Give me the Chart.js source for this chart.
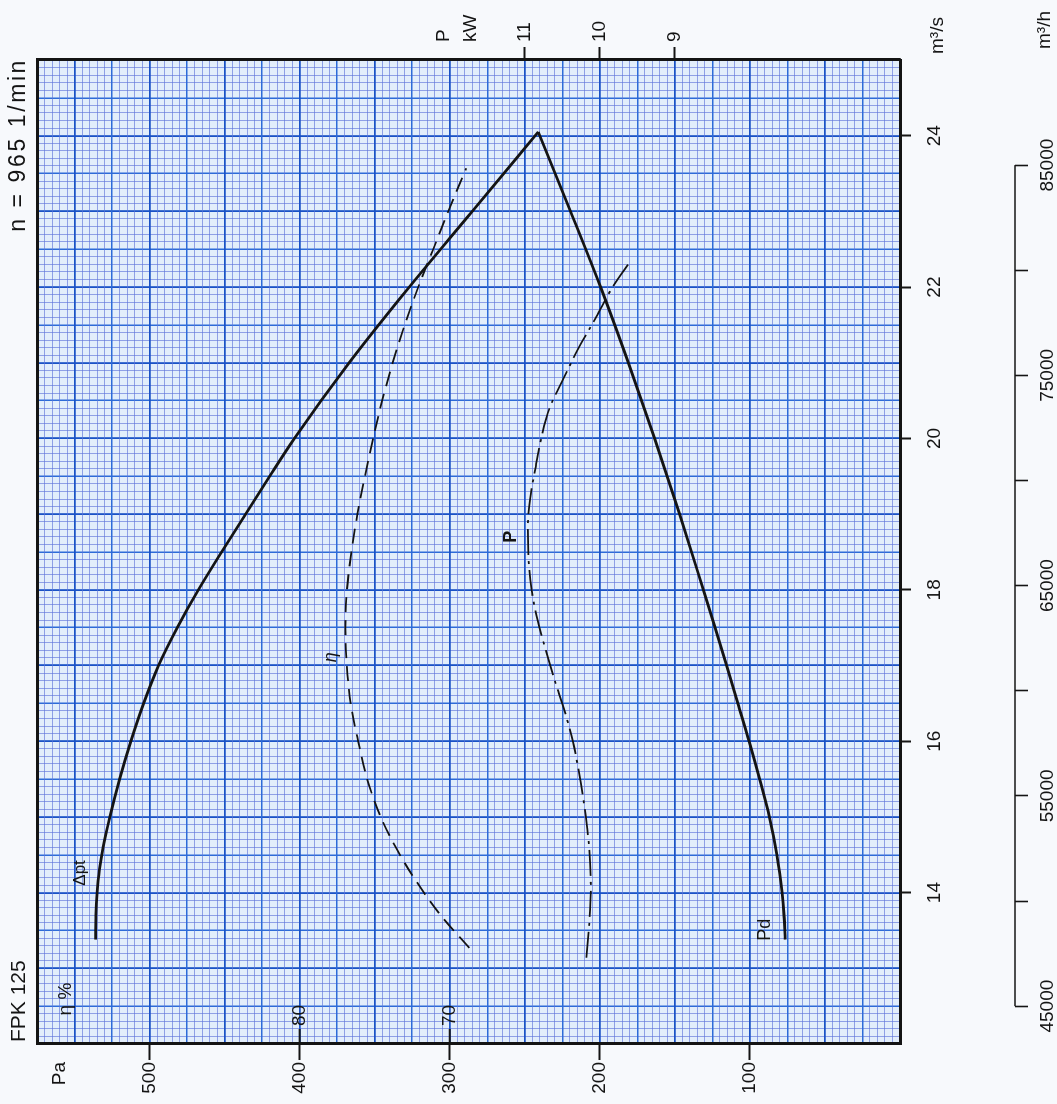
<!DOCTYPE html>
<html>
<head>
<meta charset="utf-8">
<title>FPK 125</title>
<script src="https://cdn.jsdelivr.net/npm/chart.js@4.4.0/dist/chart.umd.min.js"></script>
<style>
  html, body { margin: 0; padding: 0; background: #f7f9fc; overflow: hidden; }
  /* the sheet is drawn upright and then turned a quarter to the left */
  #wrap {
    position: absolute; left: 0; top: 0;
    width: 1104px; height: 1057px;
    transform-origin: 0 0;
    transform: translateY(1104px) rotate(-90deg);
  }
  canvas { display: block; }
</style>
</head>
<body>
<div id="wrap"><canvas id="chart" width="1104" height="1057"></canvas></div>
<script>
// curves: flow in m3/s
const dptFlow = [13.38, 13.7, 14.0, 14.3, 14.6, 15.0, 15.5, 16.0, 16.5, 17.0, 17.5, 18.0, 18.5, 19.0, 19.5, 20.0, 21.0, 22.0, 23.0, 24.05];
const dptPa = [536, 535.8, 535, 533.5, 531, 526.5, 520, 512.5, 504, 494, 481.5, 467.5, 452, 436, 420, 403.5, 367, 327, 285, 241];

const pdFlow = [13.38, 13.7, 14.0, 14.5, 15.0, 15.5, 16.0, 16.5, 17.0, 17.5, 18.0, 19.0, 20.0, 21.0, 22.0, 23.0, 24.05];
const pdPa = [76.5, 77.3, 78.6, 82, 87, 93.5, 100.5, 108, 115.5, 123.2, 131, 146.8, 163.5, 181, 199.5, 219.5, 241];

const etaFlow = [13.27, 13.7, 14.2, 14.6, 15.0, 15.5, 16.0, 16.5, 17.0, 17.5, 18.0, 18.5, 19.0, 19.5, 20.0, 20.5, 21.0, 21.5, 22.0, 22.5, 23.0, 23.57];
const etaPct = [68.7, 70.6, 72.4, 73.6, 74.6, 75.5, 76.1, 76.6, 76.85, 76.95, 76.85, 76.55, 76.15, 75.65, 75.1, 74.5, 73.8, 73.0, 72.1, 71.1, 70.1, 68.9];

const powFlow = [13.14, 13.6, 14.04, 14.56, 15.1, 15.6, 16.0, 16.4, 16.8, 17.2, 17.6, 18.0, 18.4, 18.8, 19.2, 19.6, 20.0, 20.4, 20.8, 21.2, 21.6, 22.0, 22.36];
const powKw = [10.18, 10.14, 10.12, 10.14, 10.2, 10.28, 10.36, 10.47, 10.6, 10.72, 10.83, 10.91, 10.95, 10.96, 10.93, 10.86, 10.78, 10.67, 10.48, 10.28, 10.05, 9.83, 9.58];

// axis ticks
const flowTicks = [14, 16, 18, 20, 22, 24];
const hourTicks = [45000, 50000, 55000, 60000, 65000, 70000, 75000, 80000, 85000];
const hourLabels = [45000, 55000, 65000, 75000, 85000];
const paTicks = [100, 200, 300, 400, 500];
const etaTicks = [70, 80];
const kwTicks = [9, 10, 11];

// where the unit names sit along their axes
const PA_UNIT_AT = 560;
const ETA_UNIT_AT = 95.6;
const KW_UNIT_AT = 11.9;

const FONT = '"Liberation Sans", Arial, Helvetica, sans-serif';
const INK = '#141414';
Chart.defaults.font.family = FONT;
Chart.defaults.font.size = 19;
Chart.defaults.color = INK;

function toPoints(xs, ys) {
  return xs.map((x, i) => ({ x: x, y: ys[i] }));
}

// graph paper: every step, with half and full centimetre lines heavier
function paperTicks(from, to, step) {
  const out = [];
  const n = Math.round((to - from) / step);
  for (let i = 0; i <= n; i++) {
    out.push({ value: +(from + i * step).toFixed(4) });
  }
  return out;
}
function paperColor(k) {
  if (k % 10 === 0) return '#1a52c6';
  if (k % 5 === 0) return '#2d6bd8';
  return 'rgba(96, 118, 218, 0.72)';
}
function paperWidth(k) {
  if (k % 10 === 0) return 1.8;
  if (k % 5 === 0) return 1.5;
  return 0.9;
}

const paperPlugin = {
  id: 'paper',
  beforeDraw(chart) {
    const { ctx, chartArea: a } = chart;
    ctx.save();
    ctx.fillStyle = '#f7f9fc';
    ctx.fillRect(0, 0, chart.width, chart.height);
    ctx.fillStyle = '#e2eefb';
    ctx.fillRect(a.left, a.top, a.right - a.left, a.bottom - a.top);
    ctx.restore();
  }
};

const notesPlugin = {
  id: 'notes',
  afterDraw(chart) {
    const { ctx, chartArea: a, scales } = chart;
    const x = scales.x, x2 = scales.x2, y = scales.y, yEta = scales.yEta;
    ctx.save();
    ctx.fillStyle = INK;
    ctx.strokeStyle = INK;

    // efficiency ticks point into the sheet
    ctx.lineWidth = 2;
    etaTicks.forEach((v) => {
      const py = yEta.getPixelForValue(v);
      ctx.beginPath();
      ctx.moveTo(a.left, py);
      ctx.lineTo(a.left + 15, py);
      ctx.stroke();
    });

    // m3/h scale only runs between its first and last label
    ctx.lineWidth = 1.6;
    ctx.beginPath();
    ctx.moveTo(x2.getPixelForValue(hourLabels[0]), x2.top);
    ctx.lineTo(x2.getPixelForValue(hourLabels[hourLabels.length - 1]), x2.top);
    ctx.stroke();

    // curve names
    const names = [
      { t: '\u0394pt', q: 14.26, p: 546, f: '17px ' + FONT },
      { t: '\u03b7', q: 17.11, p: 379, f: 'italic 18px ' + FONT },
      { t: 'P', q: 18.7, p: 259, f: 'bold 18px ' + FONT },
      { t: 'Pd', q: 13.51, p: 90, f: '18px ' + FONT }
    ];
    ctx.textAlign = 'center';
    ctx.textBaseline = 'middle';
    names.forEach((n) => {
      ctx.font = n.f;
      ctx.fillText(n.t, x.getPixelForValue(n.q), y.getPixelForValue(n.p));
    });

    // unit names at the ends of the flow scales
    ctx.font = '19px ' + FONT;
    ctx.textAlign = 'left';
    ctx.fillText('m\u00b3/s', a.right + 6, x.top + 38);
    ctx.fillText('m\u00b3/h', a.right + 11, x2.top + 30);

    // sheet headings
    ctx.textBaseline = 'middle';
    ctx.font = '21px ' + FONT;
    ctx.textAlign = 'left';
    ctx.fillText('FPK 125', a.left + 2, a.top - 18);
    ctx.font = '23px ' + FONT;
    ctx.letterSpacing = '2.6px';
    ctx.textAlign = 'right';
    ctx.fillText('n = 965 1/min', a.right + 2, a.top - 18);
    ctx.restore();
  }
};

const lineBase = {
  pointRadius: 0,
  fill: false,
  cubicInterpolationMode: 'monotone',
  borderColor: INK
};

new Chart(document.getElementById('chart'), {
  type: 'line',
  data: {
    datasets: [
      Object.assign({ label: '\u0394pt', data: toPoints(dptFlow, dptPa), yAxisID: 'y', borderWidth: 2.8 }, lineBase),
      Object.assign({ label: 'Pd', data: toPoints(pdFlow, pdPa), yAxisID: 'y', borderWidth: 2.8 }, lineBase),
      Object.assign({ label: '\u03b7', data: toPoints(etaFlow, etaPct), yAxisID: 'yEta', borderWidth: 1.8, borderDash: [15, 8] }, lineBase),
      Object.assign({ label: 'P', data: toPoints(powFlow, powKw), yAxisID: 'yP', borderWidth: 1.8, borderDash: [26, 6, 3, 6] }, lineBase)
    ]
  },
  options: {
    responsive: false,
    animation: false,
    layout: { padding: { top: 37, left: 0, right: 0, bottom: 0 } },
    plugins: { legend: { display: false }, tooltip: { enabled: false } },
    scales: {
      x: {
        type: 'linear', position: 'bottom', min: 12, max: 25, weight: 0,
        afterBuildTicks: (s) => { s.ticks = flowTicks.map((v) => ({ value: v })); },
        ticks: { autoSkip: false, maxRotation: 0, padding: 12 },
        grid: { drawOnChartArea: false, tickLength: 11, tickWidth: 2, tickColor: INK },
        border: { color: INK, width: 3 },
        afterFit: (s) => { s.height = 115; }
      },
      x2: {
        type: 'linear', position: 'bottom', min: 12 * 3600, max: 25 * 3600, weight: 1,
        afterBuildTicks: (s) => { s.ticks = hourTicks.map((v) => ({ value: v })); },
        ticks: {
          autoSkip: false, maxRotation: 0, padding: 8,
          callback: (v) => (hourLabels.includes(v) ? String(v) : '')
        },
        grid: { drawOnChartArea: false, tickLength: 13, tickWidth: 1.6, tickColor: INK },
        border: { display: false },
        afterFit: (s) => { s.height = 42; }
      },
      xg: {
        type: 'linear', position: 'top', min: 12, max: 25,
        afterBuildTicks: (s) => { s.ticks = paperTicks(12, 25, 0.1); },
        ticks: { display: false, autoSkip: false },
        grid: {
          drawTicks: false,
          color: (c) => (c.tick ? paperColor(Math.round(c.tick.value * 10)) : 'transparent'),
          lineWidth: (c) => (c.tick ? paperWidth(Math.round(c.tick.value * 10)) : 0)
        },
        border: { color: INK, width: 3 },
        afterFit: (s) => { s.height = 0; }
      },
      y: {
        type: 'linear', position: 'left', min: 0, max: 575, weight: 2,
        afterBuildTicks: (s) => { s.ticks = paTicks.concat([PA_UNIT_AT]).map((v) => ({ value: v })); },
        ticks: { autoSkip: false, padding: 2, callback: (v) => (v === PA_UNIT_AT ? 'Pa' : String(v)) },
        grid: {
          drawOnChartArea: false, tickLength: 16, tickWidth: 2,
          tickColor: (c) => (c.tick && c.tick.value === PA_UNIT_AT ? 'transparent' : INK)
        },
        border: { display: false },
        afterFit: (s) => { s.width = 60; }
      },
      yEta: {
        type: 'linear', position: 'left', min: 40, max: 97.5, weight: 1,
        afterBuildTicks: (s) => { s.ticks = etaTicks.concat([ETA_UNIT_AT]).map((v) => ({ value: v })); },
        ticks: { autoSkip: false, mirror: true, padding: 18, callback: (v) => (v === ETA_UNIT_AT ? '  \u03b7 %' : String(v)) },
        grid: { drawOnChartArea: false, drawTicks: false },
        border: { color: INK, width: 3 },
        afterFit: (s) => { s.width = 0; }
      },
      yg: {
        type: 'linear', position: 'right', min: 0, max: 575, weight: 0,
        afterBuildTicks: (s) => { s.ticks = paperTicks(0, 575, 5); },
        ticks: { display: false, autoSkip: false },
        grid: {
          drawTicks: false,
          color: (c) => (c.tick ? paperColor(Math.round(c.tick.value / 5)) : 'transparent'),
          lineWidth: (c) => (c.tick ? paperWidth(Math.round(c.tick.value / 5)) : 0)
        },
        border: { color: INK, width: 3 },
        afterFit: (s) => { s.width = 0; }
      },
      yP: {
        type: 'linear', position: 'right', min: 6, max: 17.5, weight: 1,
        afterBuildTicks: (s) => { s.ticks = kwTicks.concat([KW_UNIT_AT]).map((v) => ({ value: v })); },
        ticks: {
          autoSkip: false, padding: 5, font: { size: 19, lineHeight: 1.4 },
          callback: (v) => (v === KW_UNIT_AT ? ['P', 'kW'] : String(v))
        },
        grid: {
          drawOnChartArea: false, tickLength: 13, tickWidth: 2,
          tickColor: (c) => (c.tick && c.tick.value === KW_UNIT_AT ? 'transparent' : INK)
        },
        border: { display: false },
        afterFit: (s) => { s.width = 60; }
      }
    }
  },
  plugins: [paperPlugin, notesPlugin]
});
</script>
</body>
</html>
